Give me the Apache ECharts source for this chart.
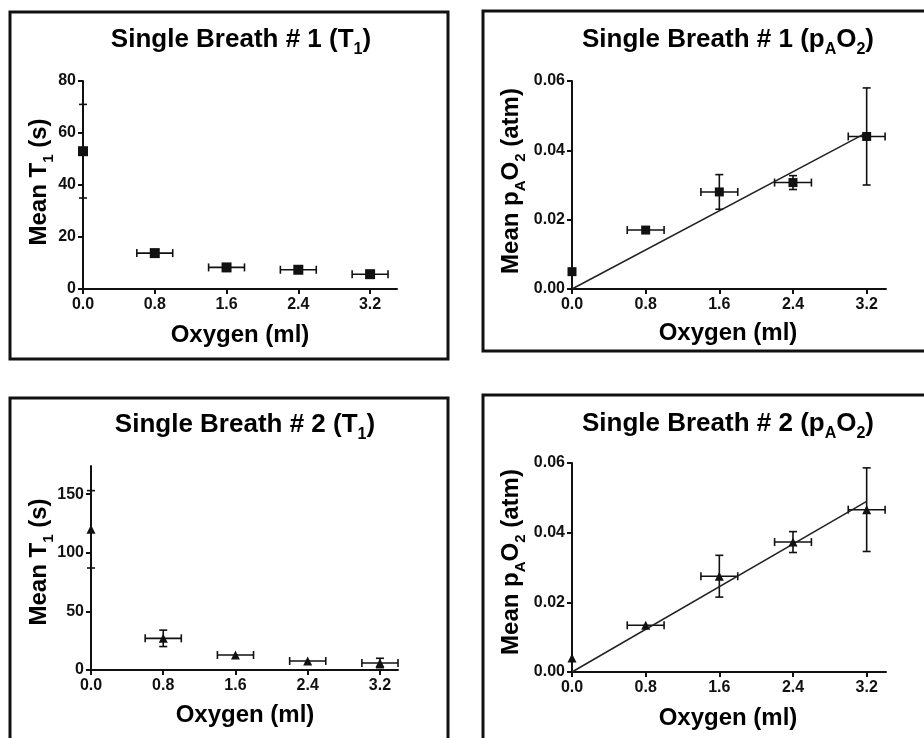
<!DOCTYPE html>
<html>
<head>
<meta charset="utf-8">
<script src="https://cdn.jsdelivr.net/npm/echarts@6/dist/echarts.min.js"></script>
<style>
  html, body { margin: 0; padding: 0; background: #fff; }
  #chart { width: 924px; height: 738px; }
</style>
</head>
<body>
<div id="chart"></div>
<script>
// 横坐标：氧气量 (ml)
const oxygen = [0, 0.8, 1.6, 2.4, 3.2];
const oxygenErr = [0, 0.2, 0.2, 0.2, 0.2];
const xTickValues = [0, 0.8, 1.6, 2.4, 3.2];

// Single Breath #1
const t1Breath1 = [53, 13.8, 8.3, 7.4, 5.7];
const t1Breath1Err = [18, 0, 0, 0, 0];
const pao2Breath1 = [0.005, 0.017, 0.028, 0.0307, 0.044];
const pao2Breath1Err = [0, 0, 0.005, 0.002, 0.014];
const fitBreath1 = [0, 0.0451];

// Single Breath #2
const t1Breath2 = [120, 27, 12.8, 7.7, 6];
const t1Breath2Err = [33, 7, 0, 0, 4];
const pao2Breath2 = [0.004, 0.0134, 0.0275, 0.0373, 0.0466];
const pao2Breath2Err = [0, 0, 0.006, 0.003, 0.012];
const fitBreath2 = [0, 0.049];

const fitX = [0, 3.2];

// 纵坐标刻度
const t1Ticks1 = [0, 20, 40, 60, 80];
const t1Ticks2 = [0, 50, 100, 150];
const pao2Ticks = [0, 0.02, 0.04, 0.06];

const ink = '#111';
const FONT = '"Liberation Sans", Arial, sans-serif';

let chart = echarts.init(document.getElementById('chart'));

function xAxisOf(gridIndex, max) {
    return {
        type: 'value', gridIndex: gridIndex, min: 0, max: max,
        axisLine: { lineStyle: { color: ink, width: 2 } },
        axisTick: { show: true, length: 5, lineStyle: { color: ink, width: 2 }, customValues: xTickValues },
        axisLabel: {
            color: ink, fontSize: 16, fontWeight: 'bold', fontFamily: FONT, margin: 8,
            customValues: xTickValues, formatter: v => v.toFixed(1)
        },
        splitLine: { show: false }
    };
}

function yAxisOf(gridIndex, max, ticks, digits) {
    return {
        type: 'value', gridIndex: gridIndex, min: 0, max: max,
        axisLine: { show: true, lineStyle: { color: ink, width: 2 } },
        axisTick: { show: true, length: 5, lineStyle: { color: ink, width: 2 }, customValues: ticks },
        axisLabel: {
            color: ink, fontSize: 16, fontWeight: 'bold', fontFamily: FONT, margin: 7,
            customValues: ticks, formatter: v => v.toFixed(digits)
        },
        splitLine: { show: false }
    };
}

// 误差线
function renderErr(params, api) {
    const x = api.value(0), y = api.value(1), xe = api.value(2), ye = api.value(3);
    const cap = 4;
    const children = [];
    const st = { stroke: ink, lineWidth: 1.6 };
    if (xe > 0) {
        const l = api.coord([x - xe, y]);
        const r = api.coord([x + xe, y]);
        children.push({ type: 'line', shape: { x1: l[0], y1: l[1], x2: r[0], y2: r[1] }, style: st });
        children.push({ type: 'line', shape: { x1: l[0], y1: l[1] - cap, x2: l[0], y2: l[1] + cap }, style: st });
        children.push({ type: 'line', shape: { x1: r[0], y1: r[1] - cap, x2: r[0], y2: r[1] + cap }, style: st });
    }
    if (ye > 0) {
        const t = api.coord([x, y + ye]);
        const b = api.coord([x, y - ye]);
        children.push({ type: 'line', shape: { x1: t[0], y1: t[1], x2: b[0], y2: b[1] }, style: st });
        children.push({ type: 'line', shape: { x1: t[0] - cap, y1: t[1], x2: t[0] + cap, y2: t[1] }, style: st });
        children.push({ type: 'line', shape: { x1: b[0] - cap, y1: b[1], x2: b[0] + cap, y2: b[1] }, style: st });
    }
    return { type: 'group', children: children };
}

function errSeries(idx, ys, yErr) {
    return {
        type: 'custom', xAxisIndex: idx, yAxisIndex: idx, renderItem: renderErr, clip: false,
        silent: true, z: 3,
        data: oxygen.map((x, i) => [x, ys[i], oxygenErr[i], yErr[i]])
    };
}

function pointSeries(idx, ys, symbol, size) {
    return {
        type: 'scatter', xAxisIndex: idx, yAxisIndex: idx, symbol: symbol, symbolSize: size,
        itemStyle: { color: ink, opacity: 1 }, z: 5, silent: true,
        data: oxygen.map((x, i) => [x, ys[i]])
    };
}

function fitSeries(idx, ys) {
    return {
        type: 'line', xAxisIndex: idx, yAxisIndex: idx, showSymbol: false, silent: true, z: 4,
        lineStyle: { color: '#222', width: 1.5 },
        data: fitX.map((x, i) => [x, ys[i]])
    };
}

// 标题及坐标轴名称（含下标）
const richBase = {
    a: { fontSize: 26, fontWeight: 'bold', fontFamily: FONT, color: ink, lineHeight: 30 },
    s: { fontSize: 16, fontWeight: 'bold', fontFamily: FONT, color: ink, verticalAlign: 'bottom', lineHeight: 16, padding: [0, 0, -3, 0] }
};
const richName = {
    a: { fontSize: 24, fontWeight: 'bold', fontFamily: FONT, color: ink, lineHeight: 28 },
    s: { fontSize: 15, fontWeight: 'bold', fontFamily: FONT, color: ink, verticalAlign: 'bottom', lineHeight: 15, padding: [0, 0, -3, 0] }
};

function label(text, x, y, rich, rotate) {
    return {
        type: 'text', x: x, y: y, rotation: rotate ? Math.PI / 2 : 0, z: 10,
        style: { text: text, rich: rich, align: 'center', verticalAlign: 'middle' }
    };
}

function box(x, y, w, h) {
    return {
        type: 'rect', shape: { x: x, y: y, width: w, height: h }, z: 10,
        style: { fill: null, stroke: ink, lineWidth: 3 }
    };
}

let option = {
    backgroundColor: '#fff',
    animation: false,
    grid: [
        { left: 83, top: 81, width: 314, height: 208, outerBoundsMode: 'none' },
        { left: 572, top: 81, width: 314, height: 208, outerBoundsMode: 'none' },
        { left: 91, top: 466, width: 307, height: 204, outerBoundsMode: 'none' },
        { left: 572, top: 463, width: 314, height: 209, outerBoundsMode: 'none' }
    ],
    xAxis: [xAxisOf(0, 3.5), xAxisOf(1, 3.41), xAxisOf(2, 3.4), xAxisOf(3, 3.41)],
    yAxis: [
        yAxisOf(0, 80, t1Ticks1, 0),
        yAxisOf(1, 0.06, pao2Ticks, 2),
        yAxisOf(2, 174, t1Ticks2, 0),
        yAxisOf(3, 0.06, pao2Ticks, 2)
    ],
    graphic: [
        box(10, 12, 438, 347),
        box(483, 11, 470, 340),
        box(10, 398, 438, 400),
        box(483, 395, 470, 400),
        label('{a|Single Breath # 1 (T}{s|1}{a|)}', 241, 40, richBase),
        label('{a|Single Breath # 1 (p}{s|A}{a|O}{s|2}{a|)}', 728, 40, richBase),
        label('{a|Single Breath # 2 (T}{s|1}{a|)}', 245, 425, richBase),
        label('{a|Single Breath # 2 (p}{s|A}{a|O}{s|2}{a|)}', 728, 424, richBase),
        label('{a|Oxygen (ml)}', 240, 335, richName),
        label('{a|Oxygen (ml)}', 728, 333, richName),
        label('{a|Oxygen (ml)}', 245, 715, richName),
        label('{a|Oxygen (ml)}', 728, 718, richName),
        label('{a|Mean T}{s|1}{a| (s)}', 39, 182, richName, true),
        label('{a|Mean p}{s|A}{a|O}{s|2}{a| (atm)}', 511, 181, richName, true),
        label('{a|Mean T}{s|1}{a| (s)}', 39, 562, richName, true),
        label('{a|Mean p}{s|A}{a|O}{s|2}{a| (atm)}', 511, 562, richName, true)
    ],
    series: [
        errSeries(0, t1Breath1, t1Breath1Err),
        pointSeries(0, t1Breath1, 'rect', 10),
        errSeries(1, pao2Breath1, pao2Breath1Err),
        fitSeries(1, fitBreath1),
        pointSeries(1, pao2Breath1, 'rect', 9),
        errSeries(2, t1Breath2, t1Breath2Err),
        pointSeries(2, t1Breath2, 'triangle', 9),
        errSeries(3, pao2Breath2, pao2Breath2Err),
        fitSeries(3, fitBreath2),
        pointSeries(3, pao2Breath2, 'triangle', 9)
    ]
};

chart.setOption(option);
window.onresize = chart.resize;
</script>
</body>
</html>
